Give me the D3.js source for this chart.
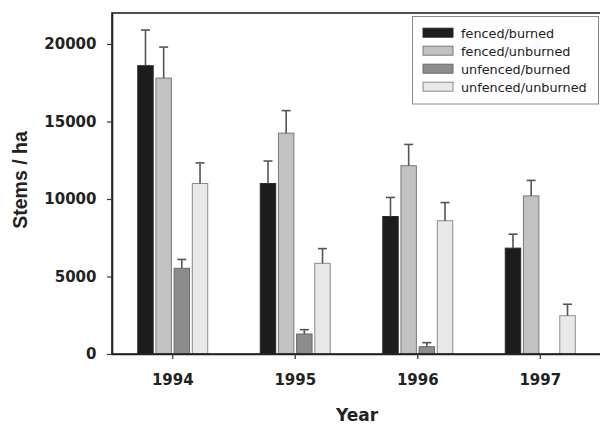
<!DOCTYPE html>
<html>
<head>
<meta charset="utf-8">
<script src="https://cdn.jsdelivr.net/npm/d3@7"></script>
<style>
  html, body { margin: 0; padding: 0; background: #fff; }
  svg { display: block; }
</style>
</head>
<body>
<svg id="chart" width="600" height="428"></svg>
<script>
// Stem density by treatment and year (mean + upper error)
const years = ["1994", "1995", "1996", "1997"];
const treatments = ["fenced/burned", "fenced/unburned", "unfenced/burned", "unfenced/unburned"];

const fencedBurned      = [18600, 11000, 8870, 6830];
const fencedBurnedErr   = [2300, 1450, 1230, 900];
const fencedUnburned    = [17800, 14250, 12150, 10200];
const fencedUnburnedErr = [2000, 1450, 1370, 1000];
const unfencedBurned    = [5530, 1290, 470, null];
const unfencedBurnedErr = [570, 280, 260, null];
const unfencedUnburned  = [11000, 5850, 8600, 2470];
const unfencedUnburnedErr = [1330, 950, 1170, 740];

const yTicks = [0, 5000, 10000, 15000, 20000];

const seriesValues = [fencedBurned, fencedUnburned, unfencedBurned, unfencedUnburned];
const seriesErrors = [fencedBurnedErr, fencedUnburnedErr, unfencedBurnedErr, unfencedUnburnedErr];
const fills = ["#1c1c1c", "#c2c2c2", "#8c8c8c", "#e8e8e8"];
const outlines = ["#2a2a2a", "#7a7a7a", "#6a6a6a", "#8a8a8a"];

const rows = [];
years.forEach((yr, i) => {
  treatments.forEach((t, j) => {
    if (seriesValues[j][i] != null) {
      rows.push({ year: yr, treatment: t, idx: j, value: seriesValues[j][i], err: seriesErrors[j][i] });
    }
  });
});

const svg = d3.select("#chart");
const plotLeft = 112, plotRight = 602, plotTop = 13, plotBottom = 354;

const x = d3.scaleBand().domain(years).range([111.5, 601.5]).paddingInner(0).paddingOuter(0);
const inner = d3.scaleBand().domain(treatments).range([-35, 35]).paddingInner(0.15).paddingOuter(0);
const y = d3.scaleLinear().domain([0, 22000]).range([plotBottom, plotTop]);

// bars
const g = svg.append("g");
g.selectAll("rect.bar")
  .data(rows)
  .join("rect")
  .attr("class", "bar")
  .attr("x", d => x(d.year) + x.bandwidth() / 2 + inner(d.treatment))
  .attr("width", inner.bandwidth())
  .attr("y", d => y(d.value))
  .attr("height", d => y(0) - y(d.value))
  .attr("fill", d => fills[d.idx])
  .attr("stroke", d => outlines[d.idx])
  .attr("stroke-width", 1);

// upper error bars
const errRows = rows.filter(d => d.err);
const cx = d => x(d.year) + x.bandwidth() / 2 + inner(d.treatment) + inner.bandwidth() / 2;
g.selectAll("line.err")
  .data(errRows)
  .join("line")
  .attr("class", "err")
  .attr("x1", cx).attr("x2", cx)
  .attr("y1", d => y(d.value)).attr("y2", d => y(d.value + d.err))
  .attr("stroke", "#555").attr("stroke-width", 1.6);
g.selectAll("line.cap")
  .data(errRows)
  .join("line")
  .attr("class", "cap")
  .attr("x1", d => cx(d) - 4.5).attr("x2", d => cx(d) + 4.5)
  .attr("y1", d => y(d.value + d.err)).attr("y2", d => y(d.value + d.err))
  .attr("stroke", "#555").attr("stroke-width", 1.6);

// frame
svg.append("rect")
  .attr("x", plotLeft).attr("y", plotTop)
  .attr("width", plotRight - plotLeft).attr("height", plotBottom - plotTop)
  .attr("fill", "none").attr("stroke", "#222").attr("stroke-width", 1.6);

// axes
const yAxis = svg.append("g")
  .attr("transform", `translate(${plotLeft},0)`)
  .call(d3.axisLeft(y).tickValues(yTicks).tickFormat(d3.format("d")).tickSize(5).tickSizeOuter(0).tickPadding(10.5));
const xAxis = svg.append("g")
  .attr("transform", `translate(0,${plotBottom})`)
  .call(d3.axisBottom(x).tickSize(5).tickSizeOuter(0).tickPadding(15.5));

[yAxis, xAxis].forEach(a => {
  a.select(".domain").attr("stroke", "#222").attr("stroke-width", 1.6);
  a.selectAll(".tick line").attr("stroke", "#333").attr("stroke-width", 1.2);
  a.selectAll(".tick text")
    .attr("fill", "#222")
    .style("font-family", "'DejaVu Sans', sans-serif")
    .style("font-weight", "bold")
    .style("font-size", "15px");
});

// axis titles
svg.append("text")
  .attr("transform", "translate(26.5,180) rotate(-90)")
  .attr("text-anchor", "middle")
  .attr("fill", "#222")
  .style("font-family", "'Liberation Sans', Arial, sans-serif")
  .style("font-weight", "bold")
  .style("font-size", "19.5px")
  .text("Stems / ha");

svg.append("text")
  .attr("x", 357).attr("y", 421)
  .attr("text-anchor", "middle")
  .attr("fill", "#222")
  .style("font-family", "'DejaVu Sans', sans-serif")
  .style("font-weight", "bold")
  .style("font-size", "17px")
  .text("Year");

// legend
const legend = svg.append("g");
legend.append("rect")
  .attr("x", 412.5).attr("y", 16.5).attr("width", 186).attr("height", 87.5)
  .attr("fill", "#fff").attr("stroke", "#8a8a8a").attr("stroke-width", 1);
const item = legend.selectAll("g.item")
  .data(treatments)
  .join("g")
  .attr("class", "item")
  .attr("transform", (d, i) => `translate(0,${32.7 + i * 18})`);
item.append("rect")
  .attr("x", 423).attr("y", -4.5).attr("width", 30).attr("height", 9)
  .attr("fill", (d, i) => fills[i])
  .attr("stroke", (d, i) => outlines[i]).attr("stroke-width", 1);
item.append("text")
  .attr("x", 461).attr("y", 4.8)
  .attr("fill", "#222")
  .style("font-family", "'DejaVu Sans', sans-serif")
  .style("font-size", "12.8px")
  .text(d => d);
</script>
</body>
</html>
